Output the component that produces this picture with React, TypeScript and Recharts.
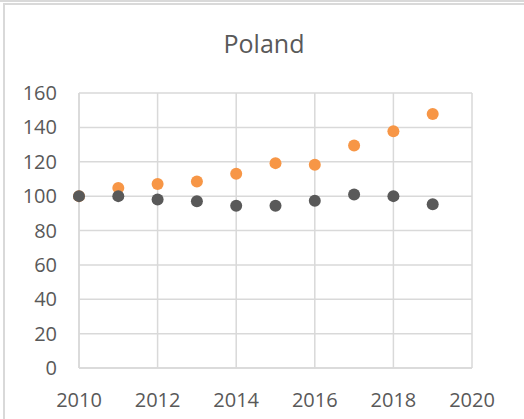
import { ScatterChart, Scatter, XAxis, YAxis, CartesianGrid } from "recharts";

const years = [2010, 2011, 2012, 2013, 2014, 2015, 2016, 2017, 2018, 2019];
const orangeValues = [100, 104.8, 107, 108.5, 113, 119.2, 118.2, 129.5, 137.8, 147.8];
const greyValues = [100, 100, 98, 97, 94.4, 94.4, 97.3, 101, 100, 95.3];
const xTicks = [2010, 2012, 2014, 2016, 2018, 2020];
const yTicks = [0, 20, 40, 60, 80, 100, 120, 140, 160];

const orangeData = years.map((x, i) => ({ x, y: orangeValues[i] }));
const greyData = years.map((x, i) => ({ x, y: greyValues[i] }));

const FONT = "'Open Sans', sans-serif";
const tickStyle = { fill: "#595959", fontSize: 20, fontFamily: FONT };

// filled circle marker, Excel-like size
const dot = (color: string) => (props: any) => (
  <circle cx={props.cx} cy={props.cy} r={6} fill={color} />
);

export default function App() {
  return (
    <div style={{ position: "absolute", left: 0, top: 0, width: 524, height: 419, background: "#fff", overflow: "hidden" }}>
      <div style={{ position: "absolute", left: 0, top: 0, width: 524, height: 2, background: "#d9d9d9" }} />
      <div
        style={{
          position: "absolute",
          left: 3,
          top: 3,
          width: 600,
          height: 600,
          borderLeft: "2px solid #d9d9d9",
          borderTop: "2px solid #d9d9d9",
        }}
      />
      <div
        style={{
          position: "absolute",
          left: 0,
          width: 528,
          top: 26,
          textAlign: "center",
          fontFamily: FONT,
          fontSize: 25,
          color: "#595959",
        }}
      >
        Poland
      </div>
      <div style={{ position: "absolute", left: 0, top: 0 }}>
        <ScatterChart width={524} height={419} margin={{ top: 93, right: 52, bottom: 0, left: 0 }}>
          <CartesianGrid stroke="#d9d9d9" strokeWidth={1.5} />
          <XAxis
            type="number"
            dataKey="x"
            domain={[2010, 2020]}
            ticks={xTicks}
            height={51}
            tick={tickStyle}
            tickLine={false}
            tickMargin={19}
            axisLine={{ stroke: "#d9d9d9", strokeWidth: 1.5 }}
          />
          <YAxis
            type="number"
            dataKey="y"
            domain={[0, 160]}
            ticks={yTicks}
            width={79}
            tick={tickStyle}
            tickLine={false}
            tickMargin={16}
            axisLine={{ stroke: "#d9d9d9", strokeWidth: 1.5 }}
          />
          <Scatter data={orangeData} fill="#f79646" shape={dot("#f79646")} isAnimationActive={false} />
          <Scatter data={greyData} fill="#595959" shape={dot("#595959")} isAnimationActive={false} />
        </ScatterChart>
      </div>
    </div>
  );
}
